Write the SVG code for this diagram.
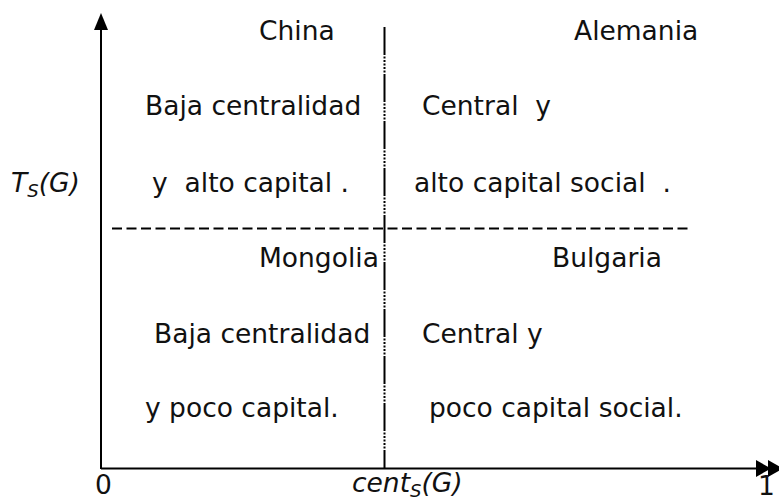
<svg xmlns="http://www.w3.org/2000/svg" width="779" height="503" viewBox="0 0 779 503">
<style>
.t{font-family:"DejaVu Sans",Verdana,sans-serif;font-size:26.5px;fill:#111;white-space:pre}
.i{font-style:italic}
.s{font-size:18px}
</style>
<rect width="779" height="503" fill="#fff"/>
<g id="connectors">
<line x1="101" y1="469" x2="101" y2="30" stroke="#000" stroke-width="2"/>
<path d="M94,30 L101,13 L108,30 z" fill="#000"/>
<line x1="101" y1="468.5" x2="760" y2="468.5" stroke="#000" stroke-width="2"/>
<path d="M756,460 L771,468.5 L756,477 z" fill="#000"/>
<path d="M768,460 L783,468.5 L768,477 z" fill="#000"/>
<line x1="384.5" y1="27" x2="384.5" y2="469" stroke="#000" stroke-width="2" stroke-dasharray="28 1.5 2 1.5 2 1.5 2 1.5 2 1.5 2 1.5"/>
<line x1="112" y1="228.5" x2="692" y2="228.5" stroke="#000" stroke-width="2" stroke-dasharray="10 4.5"/>
</g>
<g id="china"><text class="t" x="259" y="40">China</text><text class="t" x="145" y="115">Baja centralidad</text><text class="t" x="152" y="192">y  alto capital .</text></g>
<g id="alemania"><text class="t" x="574" y="40">Alemania</text><text class="t" x="422" y="115">Central  y</text><text class="t" x="414" y="192">alto capital social  .</text></g>
<g id="mongolia"><text class="t" x="259" y="267">Mongolia</text><text class="t" x="154" y="343">Baja centralidad</text><text class="t" x="145" y="417">y poco capital.</text></g>
<g id="bulgaria"><text class="t" x="552" y="267">Bulgaria</text><text class="t" x="422" y="343">Central y</text><text class="t" x="429" y="417">poco capital social.</text></g>
<g id="labels">
<text class="t i" x="11" y="192">T<tspan class="s" dy="5">S</tspan><tspan dy="-5">(G)</tspan></text>
<text class="t" x="95" y="494">0</text>
<text class="t i" x="352" y="492">cent<tspan class="s" dy="5">S</tspan><tspan dy="-5">(G)</tspan></text>
<text class="t" x="758" y="495">1</text>
</g>
</svg>
